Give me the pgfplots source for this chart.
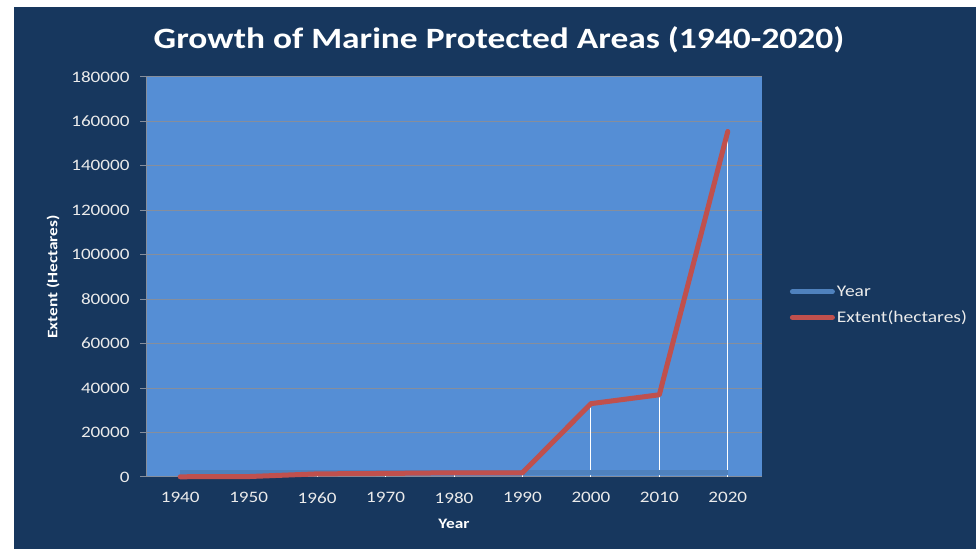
\documentclass[border=0pt]{standalone}
\usepackage{pgfplots}
\pgfplotsset{compat=1.18}
\usepackage{fontspec}
\setmainfont{Carlito}[FakeStretch=1.2]
\definecolor{navy}{RGB}{23,55,94}
\definecolor{plotbg}{RGB}{85,142,213}
\definecolor{redl}{RGB}{192,80,77}
\definecolor{bluel}{RGB}{79,129,189}
\definecolor{gridc}{RGB}{134,142,156}
\definecolor{ticktxt}{RGB}{235,235,235}
\begin{document}
\begin{tikzpicture}[x=1bp,y=1bp]
\fill[white] (0,0) rectangle (976,549);
\fill[navy] (14,0) rectangle (976,542);
\node[text=white,font=\bfseries\fontsize{29.6}{32}\selectfont] at (499,509) {Growth of Marine Protected Areas (1940-2020)};
\begin{axis}[
  at={(146bp,72bp)}, anchor=south west,
  scale only axis, width=616bp, height=400bp,
  xmin=-0.5, xmax=8.5, ymin=0, ymax=180000,
  axis background/.style={fill=plotbg},
  axis x line*=bottom, axis y line*=left,
  axis line style={draw=gridc, line width=1bp, -},
  xtick={0,...,8},
  xticklabels={1940,1950,1960,1970,1980,1990,2000,2010,2020},
  ytick={0,20000,...,180000},
  scaled y ticks=false,
  /pgf/number format/assume math mode=true,
  yticklabel={\pgfmathprintnumber[fixed,1000 sep={}]{\tick}},
  ymajorgrids, grid style={draw=gridc, line width=1bp},
  tick align=outside,
  xtick style={draw=none},
  ytick style={draw=gridc, line width=1bp},
  major tick length=6bp,
  tick label style={text=ticktxt, font=\fontsize{16}{18}\selectfont},
  yticklabel style={xshift=-7bp},
  xticklabel style={yshift=-6bp},
  xlabel={Year}, ylabel={Extent (Hectares)},
  label style={text=white, font=\bfseries\fontsize{14.5}{16}\selectfont},
  xlabel style={yshift=-9bp},
  ylabel style={yshift=5bp},
  clip=false,
  legend style={at={(1.045,0.43)}, anchor=west, draw=none, fill=none,
    text=ticktxt, font=\fontsize{16.3}{18}\selectfont, row sep=9bp,
    inner xsep=0pt, /tikz/every even column/.append style={column sep=2bp}},
  legend cell align=left,
  legend image code/.code={\draw[#1, line width=5bp, line cap=round] (0bp,0bp) -- (40bp,0bp);},
]
\addplot[white, line width=1bp, ycomb, forget plot] coordinates {
(0,1940) (1,1950) (2,1960) (3,1970) (4,1980) (5,1990) (6,33000) (7,37000) (8,155500)};
\addplot[bluel, line width=5bp] coordinates {
(0,1940) (1,1950) (2,1960) (3,1970) (4,1980) (5,1990) (6,2000) (7,2010) (8,2020)};
\addlegendentry{Year}
\addplot[redl, line width=5bp, line join=round, line cap=round] coordinates {
(0,100) (1,200) (2,1400) (3,1600) (4,1900) (5,1900) (6,33000) (7,37000) (8,155500)};
\addlegendentry{Extent(hectares)}
\end{axis}
\end{tikzpicture}
\end{document}
